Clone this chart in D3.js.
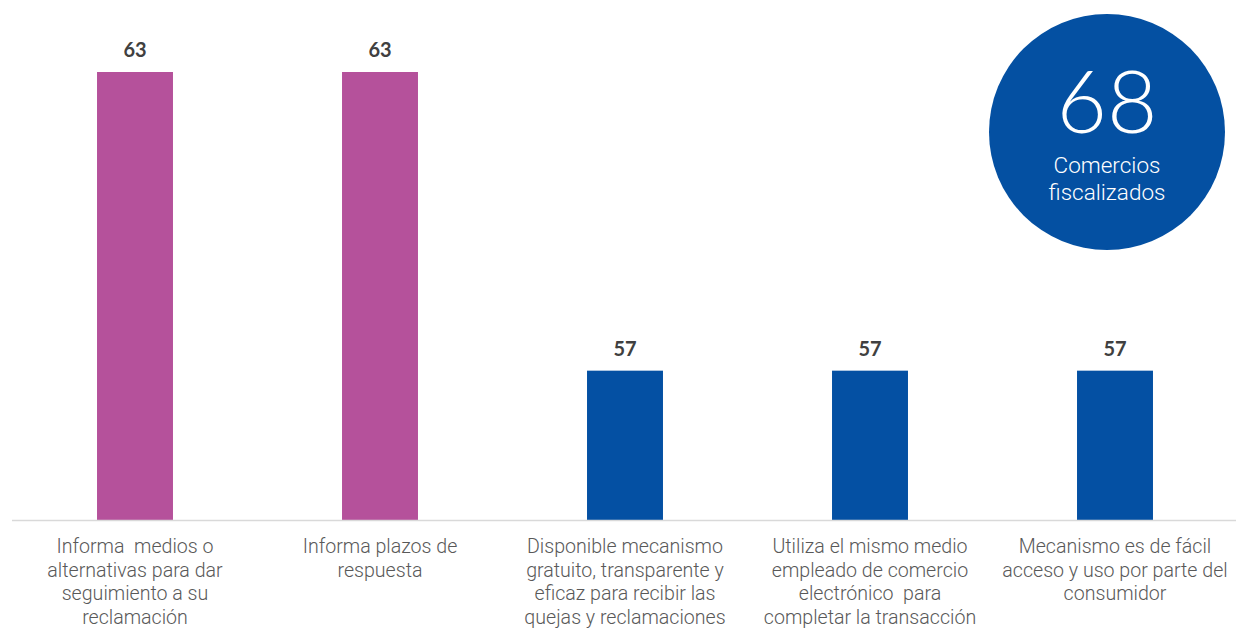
<!DOCTYPE html>
<html>
<head>
<meta charset="utf-8">
<script src="https://cdn.jsdelivr.net/npm/d3@7"></script>
<style>
  html, body { margin: 0; padding: 0; background: #fff; }
  svg { display: block; }
  text { white-space: pre; }
</style>
</head>
<body>
<svg id="chart" width="1236" height="629"></svg>
<script>
// Criterios evaluados y número de comercios que cumplen
const categories = [
  ["Informa  medios o", "alternativas para dar", "seguimiento a su", "reclamación"],
  ["Informa plazos de", "respuesta"],
  ["Disponible mecanismo", "gratuito, transparente y", "eficaz para recibir las", "quejas y reclamaciones"],
  ["Utiliza el mismo medio", "empleado de comercio", "electrónico  para", "completar la transacción"],
  ["Mecanismo es de fácil", "acceso y uso por parte del", "consumidor"]
];
const values = [63, 63, 57, 57, 57];
const barColors = ["#B5519B", "#B5519B", "#0450A3", "#0450A3", "#0450A3"];
const totalCount = 68;
const totalLabel = ["Comercios", "fiscalizados"];

const svg = d3.select("#chart");
const baseY = 520;

const x = d3.scaleBand()
  .domain(d3.range(values.length))
  .range([12.5, 1237.5])
  .paddingInner(0.69)
  .paddingOuter(0.345);

const y = d3.scaleLinear()
  .domain([54, 63])
  .range([baseY, 72]);

// Barras
svg.selectAll("rect.bar")
  .data(values)
  .join("rect")
  .attr("class", "bar")
  .attr("x", (d, i) => x(i))
  .attr("y", d => y(d))
  .attr("width", x.bandwidth())
  .attr("height", d => baseY - y(d))
  .attr("fill", (d, i) => barColors[i]);

// Línea base
svg.append("line")
  .attr("x1", 12).attr("x2", 1236)
  .attr("y1", baseY + 0.5).attr("y2", baseY + 0.5)
  .attr("stroke", "#D9D9D9")
  .attr("stroke-width", 1.5);

// Etiquetas de valor
svg.selectAll("text.val")
  .data(values)
  .join("text")
  .attr("class", "val")
  .attr("x", (d, i) => x(i) + x.bandwidth() / 2)
  .attr("y", d => y(d) - 15)
  .attr("text-anchor", "middle")
  .attr("font-family", "Lato, 'Open Sans', sans-serif")
  .attr("font-weight", 700)
  .attr("font-size", 20)
  .attr("fill", "#404040")
  .text(d => d);

// Etiquetas de categoría
const cat = svg.selectAll("text.cat")
  .data(categories)
  .join("text")
  .attr("class", "cat")
  .attr("x", (d, i) => x(i) + x.bandwidth() / 2)
  .attr("y", 553)
  .attr("text-anchor", "middle")
  .attr("font-family", "Roboto, sans-serif")
  .attr("font-weight", 300)
  .attr("font-size", 19.6)
  .attr("fill", "#595959");
cat.selectAll("tspan")
  .data(d => d)
  .join("tspan")
  .attr("x", function () { return d3.select(this.parentNode).attr("x"); })
  .attr("dy", (d, j) => j === 0 ? 0 : 23.5)
  .text(d => d);

// Círculo con total de comercios
const cx = 1107, cy = 132, r = 118;
svg.append("circle")
  .attr("cx", cx).attr("cy", cy).attr("r", r)
  .attr("fill", "#0450A2");

svg.append("text")
  .attr("x", cx).attr("y", 133)
  .attr("text-anchor", "middle")
  .attr("font-family", "Lato, 'Open Sans', sans-serif")
  .attr("font-weight", 300)
  .attr("font-size", 87)
  .attr("fill", "#fff")
  .text(totalCount);

svg.append("text")
  .attr("x", cx).attr("y", 173)
  .attr("text-anchor", "middle")
  .attr("font-family", "Roboto, sans-serif")
  .attr("font-weight", 300)
  .attr("font-size", 22.5)
  .attr("fill", "#fff")
  .selectAll("tspan")
  .data(totalLabel)
  .join("tspan")
  .attr("x", cx)
  .attr("dy", (d, j) => j === 0 ? 0 : 26.5)
  .text(d => d);
</script>
</body>
</html>
